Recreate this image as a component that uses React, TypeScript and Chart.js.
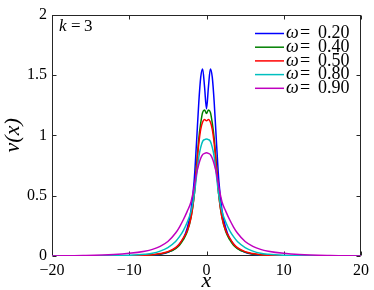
import React, { useEffect, useRef } from 'react';
import { Chart, registerables } from 'chart.js';

Chart.register(...registerables);

const xValues = [-20, -16, -12, -10, -8, -7, -6, -5, -4, -3.5, -3, -2.5, -2, -1.6, -1.3, -1, -0.75, -0.5, -0.25, 0, 0.25, 0.5, 0.75, 1, 1.3, 1.6, 2, 2.5, 3, 3.5, 4, 5, 6, 7, 8, 10, 12, 16, 20];

const omega020 = [0, 0.0001, 0.0003, 0.001, 0.004, 0.008, 0.015, 0.03, 0.065, 0.1, 0.145, 0.23, 0.38, 0.62, 0.93, 1.27, 1.48, 1.55, 1.4, 1.22, 1.4, 1.55, 1.48, 1.27, 0.93, 0.62, 0.38, 0.23, 0.145, 0.1, 0.065, 0.03, 0.015, 0.008, 0.004, 0.001, 0.0003, 0.0001, 0];
const omega040 = [0, 0, 0.0003, 0.0015, 0.005, 0.009, 0.017, 0.032, 0.062, 0.09, 0.135, 0.2, 0.32, 0.5, 0.74, 0.97, 1.1, 1.19, 1.21, 1.18, 1.21, 1.19, 1.1, 0.97, 0.74, 0.5, 0.32, 0.2, 0.135, 0.09, 0.062, 0.032, 0.017, 0.009, 0.005, 0.0015, 0.0003, 0, 0];
const omega050 = [0, 0, 0.0005, 0.002, 0.006, 0.011, 0.02, 0.036, 0.07, 0.1, 0.15, 0.21, 0.32, 0.5, 0.72, 0.93, 1.05, 1.11, 1.13, 1.12, 1.13, 1.11, 1.05, 0.93, 0.72, 0.5, 0.32, 0.21, 0.15, 0.1, 0.07, 0.036, 0.02, 0.011, 0.006, 0.002, 0.0005, 0, 0];
const omega080 = [0, 0.0005, 0.003, 0.006, 0.014, 0.022, 0.04, 0.07, 0.12, 0.16, 0.21, 0.28, 0.37, 0.5, 0.66, 0.82, 0.9, 0.95, 0.965, 0.97, 0.965, 0.95, 0.9, 0.82, 0.66, 0.5, 0.37, 0.28, 0.21, 0.16, 0.12, 0.07, 0.04, 0.022, 0.014, 0.006, 0.003, 0.0005, 0];
const omega090 = [0.001, 0.004, 0.012, 0.022, 0.04, 0.055, 0.08, 0.12, 0.19, 0.24, 0.3, 0.37, 0.45, 0.57, 0.68, 0.76, 0.81, 0.84, 0.85, 0.855, 0.85, 0.84, 0.81, 0.76, 0.68, 0.57, 0.45, 0.37, 0.3, 0.24, 0.19, 0.12, 0.08, 0.055, 0.04, 0.022, 0.012, 0.004, 0.001];

const seriesValues = [omega020, omega040, omega050, omega080, omega090];
const seriesLabels = ['0.20', '0.40', '0.50', '0.80', '0.90'];
const seriesColors = ['#0000ff', '#008000', '#ff0000', '#00bfbf', '#bf00bf'];

const xTicks = [-20, -10, 0, 10, 20];
const yTicks = [0, 0.5, 1, 1.5, 2];

const SERIF = '"Liberation Serif"';
const AXIS = '#262626';

const framePlugin = {
  id: 'frame',
  beforeDatasetsDraw(chart: any) {
    const { ctx, chartArea, scales } = chart;
    const l = Math.round(chartArea.left) + 0.5;
    const r = Math.round(chartArea.right) - 0.5;
    const t = Math.round(chartArea.top) + 0.5;
    const b = Math.round(chartArea.bottom) - 0.5;
    ctx.save();
    ctx.strokeStyle = AXIS;
    ctx.lineWidth = 1;
    ctx.strokeRect(l, t, r - l, b - t);
    const tl = 4;
    ctx.beginPath();
    for (const v of xTicks) {
      const px = Math.round(scales.x.getPixelForValue(v)) + 0.5;
      ctx.moveTo(px, b);
      ctx.lineTo(px, b - tl);
      ctx.moveTo(px, t);
      ctx.lineTo(px, t + tl);
    }
    for (const v of yTicks) {
      const py = Math.round(scales.y.getPixelForValue(v)) + 0.5;
      ctx.moveTo(l, py);
      ctx.lineTo(l + tl, py);
      ctx.moveTo(r, py);
      ctx.lineTo(r - tl, py);
    }
    ctx.stroke();
    ctx.restore();
  },
  afterDraw(chart: any) {
    const { ctx, chartArea } = chart;
    ctx.save();
    ctx.fillStyle = '#000';
    ctx.textBaseline = 'middle';
    const kx = chartArea.left + 7;
    const ky = chartArea.top + 12;
    ctx.font = `italic 17px ${SERIF}`;
    ctx.fillText('k', kx, ky);
    ctx.font = `17px ${SERIF}`;
    ctx.fillText('=', kx + 12, ky);
    ctx.fillText('3', kx + 25, ky);
    chart.data.datasets.forEach((ds: any, i: number) => {
      const y = 33.5 + i * 13.7;
      ctx.strokeStyle = ds.borderColor;
      ctx.lineWidth = 1.5;
      ctx.beginPath();
      ctx.moveTo(255, y);
      ctx.lineTo(284, y);
      ctx.stroke();
      ctx.font = `italic 18px ${SERIF}`;
      ctx.fillText('ω', 286, y);
      ctx.font = `18px ${SERIF}`;
      ctx.fillText('=', 300, y);
      ctx.fillText(seriesLabels[i], 318, y);
    });
    ctx.restore();
  },
};

export default function App() {
  const canvasRef = useRef<HTMLCanvasElement | null>(null);

  useEffect(() => {
    const canvas = canvasRef.current;
    if (!canvas) return;
    document.body.style.margin = '0';
    const chart = new Chart(canvas, {
      type: 'line',
      data: {
        datasets: seriesValues.map((vals, i) => ({
          label: `ω = ${seriesLabels[i]}`,
          data: vals.map((v, j) => ({ x: xValues[j], y: v })),
          borderColor: seriesColors[i],
          backgroundColor: seriesColors[i],
          borderWidth: 1.5,
          pointRadius: 0,
          fill: false,
          cubicInterpolationMode: 'monotone' as const,
          order: seriesValues.length - i,
        })),
      },
      options: {
        animation: false,
        responsive: true,
        maintainAspectRatio: false,
        layout: { padding: { left: 0, right: 13, top: 12, bottom: 0 } },
        plugins: {
          legend: { display: false },
          tooltip: { enabled: false },
        },
        scales: {
          x: {
            type: 'linear',
            min: -20,
            max: 20,
            afterBuildTicks: (scale: any) => {
              scale.ticks = xTicks.map((v) => ({ value: v }));
            },
            afterFit: (scale: any) => {
              scale.height = 34;
            },
            grid: { display: false, drawTicks: false },
            border: { display: false },
            ticks: {
              color: '#000',
              font: { family: SERIF, size: 16 },
              padding: 5,
              maxRotation: 0,
              callback: (v: any) => String(v).replace('-', '\u2212'),
            },
            title: {
              display: true,
              text: 'x',
              color: '#000',
              font: { family: SERIF, size: 22, style: 'italic', lineHeight: 1 },
              padding: { top: 0, bottom: -2 },
            },
          },
          y: {
            type: 'linear',
            min: 0,
            max: 2,
            afterBuildTicks: (scale: any) => {
              scale.ticks = yTicks.map((v) => ({ value: v }));
            },
            afterFit: (scale: any) => {
              scale.width = 52;
            },
            grid: { display: false, drawTicks: false },
            border: { display: false },
            ticks: {
              color: '#000',
              font: { family: SERIF, size: 16 },
              padding: 5,
              callback: (v: any) => String(v),
            },
            title: {
              display: true,
              text: 'v(x)',
              color: '#000',
              font: { family: SERIF, size: 22, style: 'italic', lineHeight: 1.2 },
              padding: { top: 0, bottom: 0 },
            },
          },
        },
      },
      plugins: [framePlugin],
    });
    return () => chart.destroy();
  }, []);

  return (
    <div style={{ position: 'relative', width: 374, height: 290 }}>
      <canvas ref={canvasRef} />
    </div>
  );
}
